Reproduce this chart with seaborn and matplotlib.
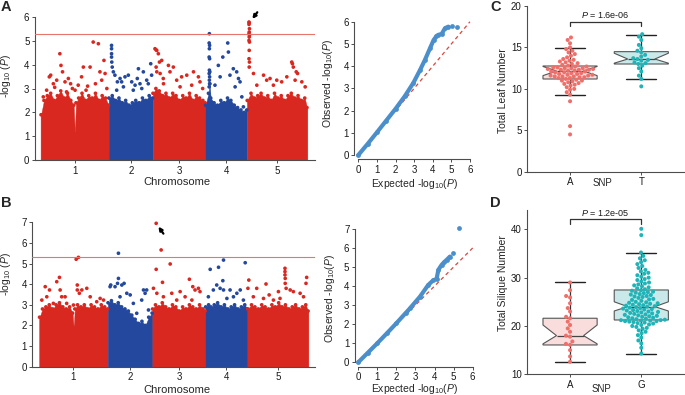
import matplotlib
matplotlib.use("Agg")
import matplotlib.pyplot as plt
import seaborn as sns
import numpy as np
import pandas as pd

# ---------------- data ----------------
chrom_names = ["1", "2", "3", "4", "5"]
chrom_len = [30.43, 19.70, 23.46, 18.59, 26.98]  # Mb

# upper edge of the dense SNP cloud (cumulative Mb)
env_pos = [0.2, 1.5, 3, 4.5, 6, 7.5, 9, 10.5, 12, 13.5, 14.8, 15.3, 15.8, 17, 18.5, 20, 21.5, 23, 24.5, 26, 27.5, 29, 30.3,
           30.5, 32, 33.5, 35, 36.5, 38, 39.5, 41, 42.5, 44, 45.5, 47, 48.5, 50.0,
           50.2, 51.5, 53, 54.5, 56, 57.5, 59, 60.5, 62, 63.5, 65, 66.5, 68, 69.5, 71, 72.5, 73.5,
           73.7, 75, 75.5, 76, 77.5, 79, 80.5, 82, 83.5, 85, 86.5, 88, 89.5, 91, 92.1,
           92.3, 94, 95.5, 97, 98.5, 100, 101.5, 103, 104.5, 106, 107.5, 109, 110.5, 112, 113.5, 115, 116.5, 118, 119.0]
a_env_val = [1.9, 2.5, 2.7, 2.8, 2.5, 2.7, 2.9, 2.6, 2.8, 2.5, 2.3, 1.1, 2.4, 2.6, 2.8, 2.5, 2.7, 2.6, 2.8, 2.5, 2.7, 2.6, 2.3,
             2.6, 2.7, 2.5, 2.6, 2.4, 2.5, 2.3, 2.4, 2.5, 2.4, 2.6, 2.5, 2.7, 2.6,
             2.8, 3.0, 2.9, 2.7, 2.8, 2.6, 2.8, 2.7, 2.5, 2.7, 2.6, 2.8, 2.5, 2.7, 2.6, 2.5, 2.4,
             2.3, 2.8, 3.2, 2.6, 2.4, 2.3, 2.5, 2.4, 2.6, 2.5, 2.3, 2.2, 2.1, 2.0, 2.1,
             2.5, 2.8, 2.6, 2.7, 2.8, 2.6, 2.7, 2.5, 2.8, 2.6, 2.7, 2.5, 2.7, 2.8, 2.6, 2.7, 2.5, 2.6, 2.2]
b_env_val = [2.4, 2.8, 2.9, 3.0, 2.8, 3.0, 3.1, 2.9, 2.8, 2.9, 2.6, 1.9, 2.8, 3.0, 2.9, 3.0, 2.8, 3.0, 2.9, 2.8, 3.0, 2.9, 2.8,
             3.1, 3.2, 3.0, 3.1, 2.9, 2.8, 2.7, 2.5, 2.3, 2.1, 2.2, 2.0, 2.4, 2.6,
             2.8, 3.0, 2.9, 3.1, 2.9, 2.8, 3.0, 2.9, 2.7, 2.9, 2.8, 3.0, 2.9, 2.8, 3.0, 2.8, 2.7,
             2.9, 3.0, 2.8, 2.9, 3.0, 3.1, 2.9, 3.0, 2.8, 2.9, 3.0, 2.8, 2.9, 3.0, 2.8,
             2.8, 3.0, 2.9, 2.8, 3.0, 2.9, 2.8, 3.0, 2.9, 3.1, 2.9, 3.0, 2.8, 2.9, 3.0, 2.8, 2.9, 3.0, 2.7]

# SNPs standing out above the cloud, panel A (total leaf number)
a_snp_pos = [1.2, 2.7, 3.9, 4.5, 5.7, 6.3, 7.2, 8.6, 9.1, 9.8, 10.9, 11.6, 12.4, 13.4, 14.2, 15.4, 16.8, 18.3, 19.1, 20.3,
             21.0, 22.1, 23.5, 24.5, 25.8, 26.5, 27.3, 28.3, 28.8, 29.6,
             31.7, 31.7, 31.7, 31.7, 31.8, 32.0, 32.5, 33.2, 34.0, 34.3, 35.5, 36.2, 37.0, 37.7, 39.2, 40.7, 41.4, 42.2,
             43.2, 43.7, 44.4, 45.2, 45.9, 47.4, 48.1, 49.2, 49.6,
             51.1, 51.6, 51.9, 52.6, 53.1, 54.1, 51.6, 51.9, 53.4, 54.8, 54.9, 57.1, 57.8, 59.3, 60.8, 62.3, 63.0, 65.3,
             67.5, 68.3, 70.5, 71.2, 72.4,
             75.4, 75.3, 75.5, 75.4, 75.3, 75.5, 75.4, 75.6, 75.3, 75.5, 75.4, 75.6, 75.3, 77.9, 79.4, 80.2, 81.4, 83.6,
             83.9, 84.6, 86.1, 86.9, 87.6, 88.4, 89.1, 89.9, 90.6,
             93.1, 93.2, 93.1, 93.3, 93.2, 93.1, 93.3, 93.2, 93.1, 93.3, 93.2, 93.1, 93.3, 93.2, 95.1, 96.6, 99.6, 101.0,
             102.5, 104.0, 105.5, 107.7, 110.0, 112.2, 112.5, 112.9, 113.7, 114.2, 114.8, 116.7, 118.2]
a_snp_val = [2.65, 2.93, 3.49, 3.56, 3.2, 3.05, 3.35, 4.46, 3.97, 3.7, 3.28, 2.86, 3.42, 3.2, 3.0, 2.93, 3.14, 3.49, 3.9, 2.93,
             3.1, 3.9, 4.95, 3.2, 4.88, 3.7, 3.35, 4.18, 3.63, 3.0,
             4.81, 4.67, 4.46, 4.32, 4.11, 3.9, 3.7, 3.56, 2.93, 3.28, 3.42, 3.28, 3.07, 3.49, 3.56, 3.28, 2.93, 3.14,
             3.42, 3.83, 3.2, 3.0, 3.7, 3.35, 3.2, 4.04, 3.56,
             4.67, 4.62, 4.6, 4.46, 4.11, 4.18, 3.9, 3.7, 3.63, 3.42, 3.2, 3.97, 3.7, 3.9, 3.35, 3.07, 3.49, 3.56,
             3.14, 3.7, 3.49, 3.28, 3.0,
             5.3, 4.91, 4.81, 4.67, 4.32, 4.25, 3.77, 3.7, 3.63, 3.49, 3.35, 3.2, 3.07, 3.14, 3.97, 3.49, 4.32, 4.91,
             4.53, 3.56, 3.83, 3.07, 3.7, 3.42, 3.28, 2.65, 2.23,
             5.79, 5.75, 5.69, 5.51, 5.37, 5.3, 5.23, 5.16, 5.02, 4.95, 4.6, 4.25, 4.11, 3.9, 3.63, 3.14, 3.56, 3.35,
             3.42, 3.14, 3.35, 3.28, 3.49, 4.11, 4.04, 3.9, 3.35, 3.7, 3.63, 3.28, 3.07]

# panel B (total silique number)
b_snp_pos = [1.2, 2.7, 3.4, 4.6, 6.3, 7.8, 9.0, 9.3, 10.0, 11.5, 12.2, 15.2, 16.4, 17.4, 16.9, 16.9, 17.8, 18.9, 21.1, 22.6,
             25.5, 27.0, 28.5,
             31.4, 31.7, 33.6, 34.7, 35.1, 35.1, 35.8, 36.6, 37.6, 38.8, 40.3, 41.7, 43.2, 45.4, 46.2, 46.9, 47.6, 48.4,
             50.6, 51.8, 51.8, 52.1, 54.0, 54.6, 55.0, 58.0, 58.7, 60.9, 62.4, 64.6, 66.5, 67.6, 68.0, 69.0, 70.5, 71.2,
             74.9, 75.7, 77.1, 78.6, 79.4, 80.1, 81.3, 81.6, 81.6, 83.1, 84.5, 86.0, 87.5, 89.0, 90.4, 91.2,
             92.4, 92.8, 94.8, 96.3, 99.3, 100.4, 101.8, 103.7, 105.9, 106.6, 108.8, 108.8, 108.8, 108.9, 108.9, 109.3,
             111.1, 112.5, 115.5, 117.0, 118.1, 118.4]
b_snp_val = [3.23, 3.88, 3.39, 3.72, 3.07, 4.12, 4.33, 3.72, 3.39, 3.39, 3.07, 2.99, 5.21, 5.30, 3.96, 3.72, 3.56, 3.72, 3.80, 3.39,
             3.15, 3.31, 3.23,
             3.88, 3.96, 3.88, 4.04, 4.28, 5.50, 3.39, 3.96, 4.04, 3.56, 3.48, 3.07, 2.59, 3.23, 3.72, 3.56, 3.72, 2.75,
             3.80, 4.72, 6.95, 3.56, 5.66, 4.09, 3.39, 4.98, 3.56, 3.23, 3.64, 3.39, 4.24, 3.23, 3.88, 3.72, 3.80, 3.64,
             3.39, 4.72, 3.72, 3.96, 4.82, 3.80, 4.17, 5.17, 3.72, 3.31, 3.72, 3.39, 3.56, 3.72, 3.23, 5.04,
             3.80, 4.20, 3.39, 3.80, 3.31, 4.01, 3.48, 3.23, 3.64, 3.31, 4.77, 4.61, 4.45, 4.28, 4.04, 3.80,
             3.72, 3.64, 3.56, 3.39, 4.04, 4.33]

threshold = 5.3

# QQ plots: expected vs observed -log10(P)
qq_a_exp = [0, 0.5, 1, 1.5, 2, 2.5, 2.96, 3.32, 3.58, 3.85, 4.05, 4.2, 4.3, 4.48, 4.66, 4.84, 5.02, 5.29]
qq_a_obs = [0, 0.5, 1.02, 1.55, 2.08, 2.65, 3.25, 3.83, 4.28, 4.80, 5.18, 5.35, 5.41, 5.45, 5.71, 5.78, 5.81, 5.78]
qq_b_exp = [0, 0.5, 1, 1.5, 2, 2.5, 2.71, 3.24, 3.67, 3.93, 4.11, 4.2, 4.37, 4.5, 4.63, 4.81, 4.98, 5.30]
qq_b_obs = [0, 0.5, 1.0, 1.52, 2.05, 2.6, 2.83, 3.45, 4.06, 4.3, 4.38, 4.85, 5.11, 5.25, 5.37, 5.55, 5.72, 7.03]

# panel C: total leaf number by SNP allele
leaf_groups = ["A", "T"]
leaf_a = [4.5, 5.5, 8.5, 9.3, 9.6, 9.9, 10.0, 10.2, 10.4, 10.5, 10.6, 10.7, 10.8, 10.9, 11.0, 11.0, 11.1, 11.2,
          11.3, 11.3, 11.4, 11.4, 11.5, 11.5, 11.5, 11.6, 11.6, 11.7, 11.7, 11.8, 11.8, 11.9, 11.9, 12.0, 12.0, 12.1, 12.1,
          12.2, 12.2, 12.3, 12.3, 12.3, 12.4, 12.4, 12.5, 12.5, 12.5, 12.6, 12.6, 12.7, 12.7,
          12.8, 12.9, 13.0, 13.1, 13.2, 13.3, 13.4, 13.5, 13.6, 13.8, 14.0, 14.2, 14.4, 14.6, 14.8, 15.0,
          15.5, 15.9, 16.2]
leaf_t = [10.3, 11.2, 11.6, 12.1, 12.5, 12.8, 13.0, 13.1, 13.2, 13.4, 13.5, 13.6, 13.7, 13.9, 14.1, 14.4, 14.6, 14.9,
          15.3, 15.9, 16.3, 16.6]
# box stats: whislo, q1, median, q3, whishi, notch low, notch high
leaf_a_box = [9.26, 11.19, 12.15, 12.76, 14.97, 11.6, 12.7]
leaf_t_box = [11.19, 13.0, 13.6, 14.49, 16.5, 13.1, 14.3]
leaf_p = "1.6e-06"

# panel D: total silique number by SNP allele
silique_groups = ["A", "G"]
silique_a = [29.0, 27.4, 26.2, 25.9, 24.7, 23.7, 23.0, 21.9, 21.6, 20.9, 20.2, 19.5, 18.8, 18.0, 17.8, 16.8, 16.3,
             16.1, 15.0, 13.7, 12.6]
silique_g = [14.3, 15.5, 16.4, 17.0, 17.6, 18.1, 18.5, 18.8, 19.1, 19.4, 19.6, 19.8, 20.0, 20.2, 20.3, 20.5, 20.6,
             20.7, 20.8, 20.9, 21.0, 21.0, 21.1, 21.1, 21.2, 21.2, 21.3,
             21.4, 21.5, 21.6, 21.7, 21.8, 21.9, 22.0, 22.1, 22.2, 22.3, 22.4, 22.5, 22.6, 22.7, 22.8, 22.9, 23.0,
             23.1, 23.2, 23.3, 23.4, 23.5, 23.6, 23.7, 23.8, 23.9, 24.0,
             24.1, 24.2, 24.3, 24.4, 24.5, 24.6, 24.7, 24.8, 24.9, 25.0, 25.2, 25.4, 25.5, 25.6, 25.8, 26.0, 26.1,
             26.2, 26.4, 26.5, 26.6, 26.8, 26.9, 27.0, 27.1, 27.3, 27.4,
             27.6, 27.8, 28.0, 28.2, 28.4, 28.6, 28.8, 29.0, 29.2, 29.5, 29.7, 30.0, 30.2, 30.5, 30.8, 31.0, 31.3,
             31.6, 32.0, 32.4, 32.8, 33.2, 33.6, 34.0, 34.5, 35.2, 38.8, 40.1]
silique_a_box = [12.6, 16.07, 18.0, 21.6, 29.0, 16.3, 20.2]
silique_g_box = [14.3, 21.24, 24.0, 27.45, 35.2, 23.1, 25.0]
silique_p = "1.2e-05"

# ---------------- style ----------------
sns.set_style("ticks")
plt.rcParams["font.family"] = ["Liberation Sans", "DejaVu Sans"]
plt.rcParams["mathtext.fontset"] = "custom"
plt.rcParams["mathtext.rm"] = "Liberation Sans"
plt.rcParams["mathtext.it"] = "Liberation Sans:italic"

red = "#d9281f"
blue = "#23489e"
qq_col = "#4a8fcb"
axis_col = "#4d4d4d"
pt_cols = ["#ef6f6a", "#1eb4b8"]
box_fills = ["#f9dcdc", "#c8e8ea"]

fig = plt.figure(figsize=(6.85, 3.95), dpi=100)


def style(ax, labelsize=7):
    for s in ["top", "right"]:
        ax.spines[s].set_visible(False)
    for s in ["left", "bottom"]:
        ax.spines[s].set_color(axis_col)
        ax.spines[s].set_linewidth(0.8)
    ax.tick_params(length=2.5, width=0.7, color=axis_col, labelsize=labelsize, pad=1.5, labelcolor="#1a1a1a")


def manhattan(ax, env_val, snp_pos, snp_val, top):
    ends = np.cumsum(chrom_len)
    starts = ends - np.array(chrom_len)
    pos = np.array(env_pos)
    val = np.array(env_val)
    for k in range(len(chrom_len)):
        m = (pos >= starts[k]) & (pos < ends[k])
        xs = np.r_[starts[k], pos[m], ends[k]]
        ys = np.r_[val[m][0], val[m], val[m][-1]]
        c = red if k % 2 == 0 else blue
        ax.fill_between(xs, 0, ys, color=c, lw=0.3, zorder=1)
    df = pd.DataFrame({"pos": np.r_[pos, snp_pos], "val": np.r_[val, snp_val]})
    df["grp"] = np.where(np.searchsorted(ends, df["pos"]) % 2 == 0, "odd", "even")
    sns.scatterplot(data=df, x="pos", y="val", hue="grp", palette={"odd": red, "even": blue},
                    s=7, linewidth=0, legend=False, ax=ax, zorder=2, clip_on=False)
    ax.axhline(threshold, color="#e8746c", lw=0.8, zorder=3)
    style(ax)
    ax.set_ylim(0, top)
    ax.spines["left"].set_bounds(0, top)
    ax.set_yticks(range(0, top + 1))
    ax.set_xticks(starts + np.array(chrom_len) / 2, chrom_names)
    ax.set_xlabel("Chromosome", fontsize=8)
    ax.set_ylabel("-log$_{10}$ ($P$)", fontsize=7.5)


def qq(ax, exp, obs, top):
    exp = np.array(exp)
    obs = np.array(obs)
    ax.plot([0, 6], [0, 6], color="#d9473f", lw=0.9, ls=(0, (3, 2.5)), zorder=1)
    band = exp < 4.9
    ax.plot(exp[band], obs[band], color=qq_col, lw=3.0, solid_capstyle="round", zorder=2)
    sns.scatterplot(x=exp, y=obs, color=qq_col, s=12, linewidth=0, ax=ax, zorder=3, clip_on=False)
    style(ax)
    ax.set_xticks(range(0, 7))
    ax.set_yticks(range(0, top + 1))
    ax.spines["left"].set_bounds(0, top)
    ax.spines["bottom"].set_bounds(0, 6)
    ax.set_xlabel("Expected -log$_{10}$($P$)", fontsize=7.5)
    ax.set_ylabel("Observed -log$_{10}$($P$)", fontsize=7.5)


def box_panel(ax, groups, values, boxes, ylabel, ptext, bracket, text_y):
    stats = []
    for g, b in zip(groups, boxes):
        lo, q1, med, q3, hi, cilo, cihi = b
        stats.append(dict(whislo=lo, q1=q1, med=med, q3=q3, whishi=hi, cilo=cilo, cihi=cihi, fliers=[], label=g))
    bp = ax.bxp(stats, positions=[0, 1], widths=0.76, shownotches=True, patch_artist=True, showfliers=False,
                capwidths=0.42,
                boxprops=dict(edgecolor="#555555", linewidth=0.8),
                medianprops=dict(color="#444444", linewidth=0.9),
                whiskerprops=dict(color="#333333", linewidth=0.9),
                capprops=dict(color="#222222", linewidth=1.0))
    for patch, fc in zip(bp["boxes"], box_fills):
        patch.set_facecolor(fc)
    df = pd.DataFrame({"snp": np.repeat(groups, [len(v) for v in values]), "val": np.concatenate(values)})
    sns.swarmplot(data=df, x="snp", y="val", hue="snp", order=groups, palette=dict(zip(groups, pt_cols)),
                  size=2.9, legend=False, ax=ax, zorder=3)
    ax.plot([0, 0, 1, 1], [bracket[0], bracket[1], bracket[1], bracket[0]], color="#333333", lw=0.9)
    ax.text(0.5, text_y, "$P$ = " + ptext, ha="center", va="center", fontsize=6.5, color="#1a1a1a")
    style(ax)
    ax.set_xlim(-0.6, 1.6)
    ax.set_xticks([0, 1], groups)
    ax.set_xlabel("SNP", fontsize=7)
    ax.set_ylabel(ylabel, fontsize=7.5)


arrow_style = dict(arrowstyle="-|>", color="black", lw=1.6, mutation_scale=5, shrinkA=0, shrinkB=0)

# A: Manhattan leaf number
axA = fig.add_axes([0.0511, 0.5949, 0.4088, 0.362])
manhattan(axA, a_env_val, a_snp_pos, a_snp_val, 6)
axA.set_xlim(-2.5, 122.6)
axA.annotate("", xy=(94.6, 5.92), xytext=(96.8, 6.2), annotation_clip=False, arrowprops=arrow_style)
axA.yaxis.set_label_coords(-0.079, 0.59)
axA.xaxis.set_label_coords(0.506, -0.12)

# B: Manhattan silique number
axB = fig.add_axes([0.0472, 0.0716, 0.4127, 0.3656])
manhattan(axB, b_env_val, b_snp_pos, b_snp_val, 7)
axB.set_xlim(-3.0, 122.1)
axB.annotate("", xy=(52.8, 6.79), xytext=(55.0, 6.45), annotation_clip=False, arrowprops=arrow_style)
axB.yaxis.set_label_coords(-0.067, 0.64)
axB.xaxis.set_label_coords(0.511, -0.13)

# QQ plots
axQA = fig.add_axes([0.5172, 0.5967, 0.1743, 0.3595])
qq(axQA, qq_a_exp, qq_a_obs, 6)
axQA.set_xlim(-0.215, 6.2)
axQA.set_ylim(-0.19, 6.2)
axQA.yaxis.set_label_coords(-0.162, 0.53)
axQA.xaxis.set_label_coords(0.508, -0.125)

axQB = fig.add_axes([0.5182, 0.0716, 0.1774, 0.3585])
qq(axQB, qq_b_exp, qq_b_obs, 7)
axQB.set_xlim(-0.17, 6.2)
axQB.set_ylim(-0.23, 7.2)
axQB.yaxis.set_label_coords(-0.151, 0.478)
axQB.xaxis.set_label_coords(0.494, -0.105)

# C / D: allele box plots
axC = fig.add_axes([0.7698, 0.5653, 0.2288, 0.4195])
box_panel(axC, leaf_groups, [leaf_a, leaf_t], [leaf_a_box, leaf_t_box], "Total Leaf Number", leaf_p,
          (17.6, 18.03), 18.9)
axC.set_ylim(0, 20)
axC.set_yticks([0, 5, 10, 15, 20])
axC.yaxis.set_label_coords(-0.123, 0.488)
axC.xaxis.set_label_coords(0.48, -0.04)

axD = fig.add_axes([0.7698, 0.0524, 0.2288, 0.416])
box_panel(axD, silique_groups, [silique_a, silique_g], [silique_a_box, silique_g_box], "Total Silique Number",
          silique_p, (41.2, 42.07), 43.4)
axD.set_ylim(10, 44)
axD.set_yticks([10, 20, 30, 40])
axD.yaxis.set_label_coords(-0.126, 0.554)
axD.xaxis.set_label_coords(0.474, -0.061)

# panel letters
for x, y, t in [(0.009, 0.982, "A"), (0.009, 0.485, "B"), (0.723, 0.982, "C"), (0.723, 0.485, "D")]:
    fig.text(x, y, t, fontsize=10.5, fontweight="bold", ha="center", va="center")

fig.savefig("out.png", dpi=100)
